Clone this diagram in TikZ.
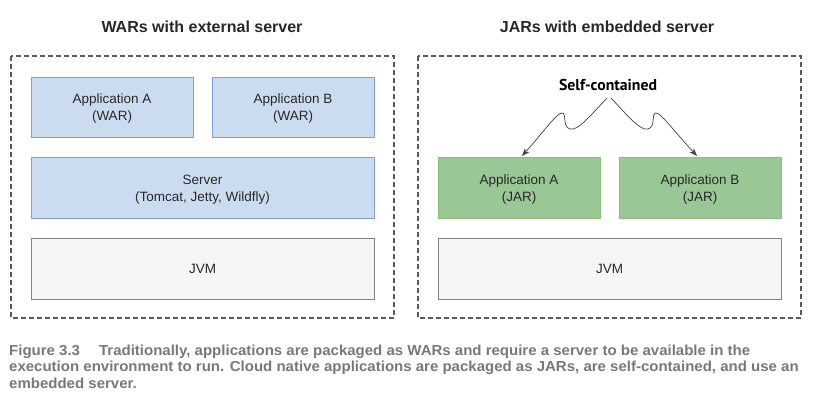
\documentclass[tikz,border=0pt]{standalone}
\usepackage{fontspec}
\usepackage{graphicx}
\setmainfont{Liberation Sans}
\newfontfamily\scfont{PT Sans}
\newfontfamily\capfont[FakeStretch=1.035]{Liberation Sans}
\usetikzlibrary{arrows.meta}
\definecolor{bluefill}{RGB}{204,220,240}
\definecolor{bluedraw}{RGB}{126,160,216}
\definecolor{greenfill}{RGB}{154,199,150}
\definecolor{greendraw}{RGB}{140,190,120}
\definecolor{grayfill}{RGB}{245,246,245}
\definecolor{graydraw}{RGB}{130,130,130}
\definecolor{framecol}{RGB}{90,90,90}
\definecolor{txt}{RGB}{40,40,40}
\definecolor{captxt}{RGB}{120,120,120}
\newcommand{\toprule}{\rule{0pt}{13.5pt}}
\tikzset{
  boxbase/.style={rectangle, line width=1pt, align=center, text=txt,
    font=\fontsize{13.5}{17}\selectfont, inner sep=0pt},
  bluebox/.style={boxbase, fill=bluefill, draw=bluedraw},
  greenbox/.style={boxbase, fill=greenfill, draw=greendraw},
  graybox/.style={boxbase, fill=grayfill, draw=graydraw},
  frame/.style={draw=framecol, line width=1.2pt, dash pattern=on 5pt off 3pt},
  paneltitle/.style={font=\fontsize{16}{19}\bfseries\selectfont, text=txt, inner sep=0pt},
  capline/.style={anchor=base west, inner sep=0pt, text=captxt,
    font=\capfont\bfseries\fontsize{14.5}{16}\selectfont},
  wiggle/.style={draw=black!75, line width=0.7pt, -{Stealth[length=8pt,width=6pt]}}
}
\begin{document}
\begin{tikzpicture}[x=1pt,y=-1pt]
\useasboundingbox (0,0) rectangle (824,410);
% frames
\draw[frame] (11,56) rectangle (394,318);
\draw[frame] (418,56) rectangle (801,318);
% titles
\node[paneltitle] (t1) at (202,27) {WARs with external server};
\node[paneltitle] (t2) at (607,27) {JARs with embedded server};
% left boxes
\node[bluebox, minimum width=162pt, minimum height=60pt] (wa) at (112,107) {\toprule Application A\\(WAR)};
\node[bluebox, minimum width=162pt, minimum height=60pt] (wb) at (293,107) {\toprule Application B\\(WAR)};
\node[bluebox, minimum width=343pt, minimum height=61pt] (srv) at (202.5,187.5) {\toprule Server\\(Tomcat, Jetty, Wildfly)};
\node[graybox, minimum width=343pt, minimum height=61pt] (jvml) at (202.5,268.5) {JVM};
% right boxes
\node[greenbox, minimum width=162pt, minimum height=61pt] (ja) at (519,187.5) {\toprule Application A\\(JAR)};
\node[greenbox, minimum width=162pt, minimum height=61pt] (jb) at (700,187.5) {\toprule Application B\\(JAR)};
\node[graybox, minimum width=343pt, minimum height=61pt] (jvmr) at (609.5,268.5) {JVM};
% self-contained
\node[inner sep=0pt] (sc) at (608,85) {\resizebox{98pt}{!}{\scfont\bfseries Self-contained}};
\coordinate (s1) at (607,98);
\coordinate (s2) at (611,98);
\coordinate (ea) at (522,156);
\coordinate (eb) at (697,156);
\draw[wiggle] (s1) .. controls (590,116) and (578,131) .. (570,129)
  .. controls (562,127) and (567,113) .. (562,113)
  .. controls (557,113) and (545,130) .. (ea);
\draw[wiggle] (s2) .. controls (628,116) and (640,131) .. (648,129)
  .. controls (656,127) and (651,113) .. (656,113)
  .. controls (661,113) and (673,130) .. (eb);
% caption
\node[capline] (c1) at (9,355) {Figure 3.3\hspace{19pt}Traditionally, applications are packaged as WARs and require a server to be available in the};
\node[capline] (c2) at (9,371.5) {execution environment to run. Cloud native applications are packaged as JARs, are self-contained, and use an};
\node[capline] (c3) at (9,388) {embedded server.};
\end{tikzpicture}
\end{document}
